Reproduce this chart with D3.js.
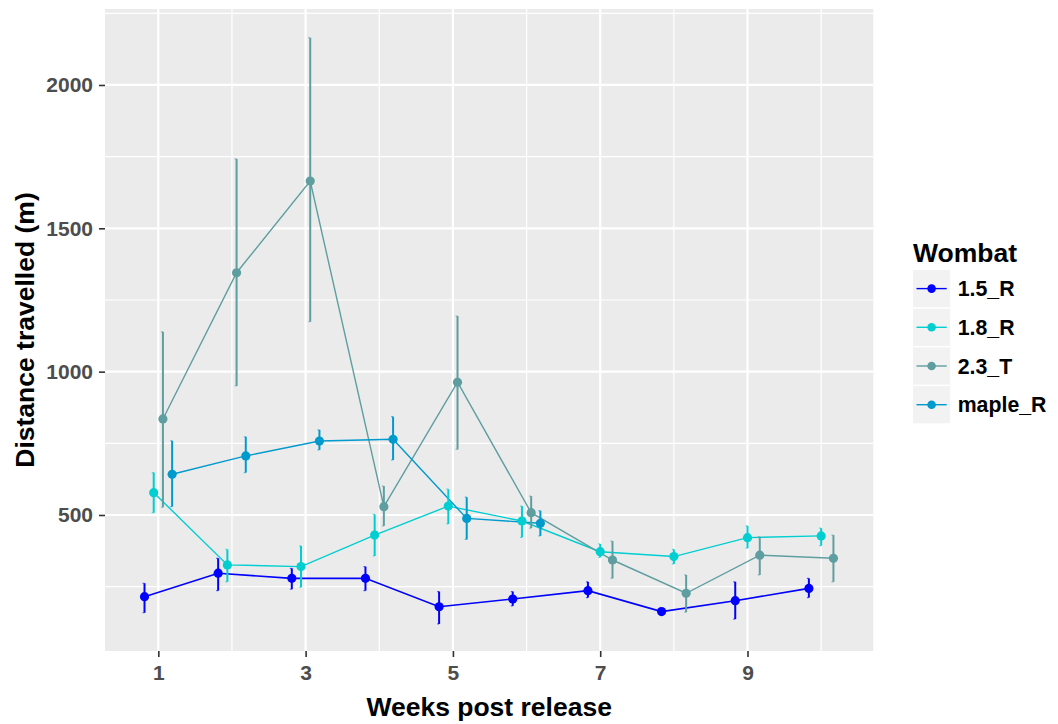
<!DOCTYPE html>
<html>
<head>
<meta charset="utf-8">
<script src="https://cdn.jsdelivr.net/npm/d3@7"></script>
<style>
  html, body { margin: 0; padding: 0; background: #ffffff; }
  svg { display: block; font-family: "Liberation Sans", Arial, sans-serif; }
</style>
</head>
<body>
<svg id="chart" width="1058" height="724"></svg>
<script>
// Weekly mean distance travelled per wombat, with lower / upper error limits.
const weeks = [1, 2, 3, 4, 5, 6, 7, 8, 9, 10];
const wombats = ["1.5_R", "1.8_R", "2.3_T", "maple_R"];
const colours = ["#0000FF", "#00CED1", "#5F9EA0", "#009ACD"];

const mean_1_5R = [215, 297, 279, 279, 180, 207, 236, 163, 201, 244];
const lo_1_5R   = [159, 236, 241, 236, 120, 183, 212, 151, 137, 212];
const hi_1_5R   = [262, 349, 314, 320, 233, 233, 267, 175, 267, 279];

const mean_1_8R = [578, 326, 320, 430, 531, 479, 372, 355, 421, 427];
const lo_1_8R   = [508, 267, 248, 357, 469, 422, 352, 329, 384, 393];
const hi_1_8R   = [648, 380, 392, 502, 590, 531, 399, 380, 462, 454];

const mean_2_3T = [835, 1345, 1665, 529, 963, 508, 343, 227, 360, 349];
const lo_2_3T   = [527, 950, 1174, 462, 729, 454, 279, 161, 291, 267];
const hi_2_3T   = [1139, 1742, 2165, 601, 1194, 566, 409, 291, 424, 430];

const mean_mapleR = [642, 706, 758, 764, 488, 471, null, null, null, null];
const lo_mapleR   = [529, 648, 727, 692, 415, 427, null, null, null, null];
const hi_mapleR   = [759, 773, 797, 843, 562, 515, null, null, null, null];

const xTicks = [1, 3, 5, 7, 9];
const xMinor = [2, 4, 6, 8, 10];
const yTicks = [500, 1000, 1500, 2000];
const yMinor = [250, 750, 1250, 1750, 2250];

const means = [mean_1_5R, mean_1_8R, mean_2_3T, mean_mapleR];
const lows  = [lo_1_5R, lo_1_8R, lo_2_3T, lo_mapleR];
const highs = [hi_1_5R, hi_1_8R, hi_2_3T, hi_mapleR];

// ---- layout ----
const svg = d3.select("#chart");
const panel = { left: 105, right: 873.3, top: 9, bottom: 651 };

const x = d3.scaleLinear().domain([0.276, 10.708]).range([panel.left, panel.right]);
const y = d3.scaleLinear().domain([25.6, 2265]).range([panel.bottom, panel.top]);

// dodge: spread the wombats present in a given week over a 0.5-week slot
const dodgeWidth = 0.5;
const records = [];
weeks.forEach((w, wi) => {
  const present = wombats.map((_, si) => si).filter(si => means[si][wi] != null);
  const n = present.length;
  present.forEach((si, k) => {
    const off = n > 1 ? dodgeWidth * ((k + 0.5) / n - 0.5) : 0;
    records.push({ series: si, week: w, xp: w + off,
                   mean: means[si][wi], lo: lows[si][wi], hi: highs[si][wi] });
  });
});

// ---- panel background & grid ----
svg.append("rect")
  .attr("x", panel.left).attr("y", panel.top)
  .attr("width", panel.right - panel.left).attr("height", panel.bottom - panel.top)
  .attr("fill", "#EBEBEB");

const grid = svg.append("g");
grid.selectAll(".ymin").data(yMinor).join("line")
  .attr("x1", panel.left).attr("x2", panel.right)
  .attr("y1", d => y(d)).attr("y2", d => y(d))
  .attr("stroke", "#ffffff").attr("stroke-width", 1.2);
grid.selectAll(".xmin").data(xMinor).join("line")
  .attr("y1", panel.top).attr("y2", panel.bottom)
  .attr("x1", d => x(d)).attr("x2", d => x(d))
  .attr("stroke", "#ffffff").attr("stroke-width", 1.2);
grid.selectAll(".ymaj").data(yTicks).join("line")
  .attr("x1", panel.left).attr("x2", panel.right)
  .attr("y1", d => y(d)).attr("y2", d => y(d))
  .attr("stroke", "#ffffff").attr("stroke-width", 2.2);
grid.selectAll(".xmaj").data(xTicks).join("line")
  .attr("y1", panel.top).attr("y2", panel.bottom)
  .attr("x1", d => x(d)).attr("x2", d => x(d))
  .attr("stroke", "#ffffff").attr("stroke-width", 2.2);

// ---- connecting lines ----
const line = d3.line().x(d => x(d.xp)).y(d => y(d.mean));
const marks = svg.append("g");
wombats.forEach((name, si) => {
  const pts = records.filter(r => r.series === si);
  marks.append("path")
    .datum(pts)
    .attr("d", line)
    .attr("fill", "none")
    .attr("stroke", colours[si])
    .attr("stroke-width", si === 0 ? 1.6 : 1.4);
});

// ---- error bars ----
const capW = 2;
const bars = marks.append("g");
bars.selectAll("line.err").data(records).join("line")
  .attr("x1", d => x(d.xp)).attr("x2", d => x(d.xp))
  .attr("y1", d => y(d.lo)).attr("y2", d => y(d.hi))
  .attr("stroke", d => colours[d.series]).attr("stroke-width", 2);
bars.selectAll("path.cap").data(records).join("path")
  .attr("d", d => {
    const cx = x(d.xp);
    return `M${cx - capW},${y(d.hi)}H${cx}M${cx - capW},${y(d.lo)}H${cx}`;
  })
  .attr("fill", "none")
  .attr("stroke", d => colours[d.series]).attr("stroke-width", 1.2)
  .attr("stroke-opacity", 0.6);

// ---- points ----
marks.append("g").selectAll("circle").data(records).join("circle")
  .attr("cx", d => x(d.xp)).attr("cy", d => y(d.mean))
  .attr("r", 4.6)
  .attr("fill", d => colours[d.series]);

// ---- axes ----
const xAxis = d3.axisBottom(x).tickValues(xTicks).tickSize(6).tickPadding(6).tickFormat(d3.format("d"));
const yAxis = d3.axisLeft(y).tickValues(yTicks).tickSize(6).tickPadding(6).tickFormat(d3.format("d"));

const gx = svg.append("g").attr("transform", `translate(0,${panel.bottom})`).call(xAxis);
const gy = svg.append("g").attr("transform", `translate(${panel.left},0)`).call(yAxis);
[gx, gy].forEach(g => {
  g.select(".domain").remove();
  g.selectAll(".tick line").attr("stroke", "#333333").attr("stroke-width", 1.6);
  g.selectAll(".tick text")
    .attr("fill", "#4D4D4D")
    .attr("font-size", 21)
    .attr("font-weight", "bold")
    .attr("font-family", "'Liberation Sans', Arial, sans-serif");
});
gx.selectAll(".tick text").attr("dy", "0.8em");

// axis titles
svg.append("text")
  .attr("x", (panel.left + panel.right) / 2).attr("y", 716)
  .attr("text-anchor", "middle")
  .attr("font-size", 26.5).attr("font-weight", "bold").attr("fill", "#000000")
  .text("Weeks post release");

svg.append("text")
  .attr("transform", `translate(34,${(panel.top + panel.bottom) / 2}) rotate(-90)`)
  .attr("text-anchor", "middle")
  .attr("font-size", 26.5).attr("font-weight", "bold").attr("fill", "#000000")
  .text("Distance travelled (m)");

// ---- legend ----
const legend = svg.append("g").attr("transform", "translate(913,0)");
legend.append("text")
  .attr("x", 0).attr("y", 261.5)
  .attr("font-size", 26.5).attr("font-weight", "bold").attr("fill", "#000000")
  .text("Wombat");

const keySize = 37.2, keyStep = 38.7, keyTop = 270;
const items = legend.selectAll("g.item").data(wombats).join("g")
  .attr("transform", (d, i) => `translate(0,${keyTop + i * keyStep})`);
items.append("rect")
  .attr("width", keySize).attr("height", keySize)
  .attr("fill", "#F2F2F2");
items.append("line")
  .attr("x1", 3.5).attr("x2", keySize - 3.5)
  .attr("y1", keySize / 2).attr("y2", keySize / 2)
  .attr("stroke", (d, i) => colours[i]).attr("stroke-width", 1.4);
items.append("circle")
  .attr("cx", keySize / 2).attr("cy", keySize / 2).attr("r", 4.3)
  .attr("fill", (d, i) => colours[i]);
items.append("text")
  .attr("x", keySize + 7.5).attr("y", keySize / 2)
  .attr("dy", "0.36em")
  .attr("font-size", 21.3).attr("font-weight", "bold").attr("fill", "#000000")
  .text(d => d);
</script>
</body>
</html>
